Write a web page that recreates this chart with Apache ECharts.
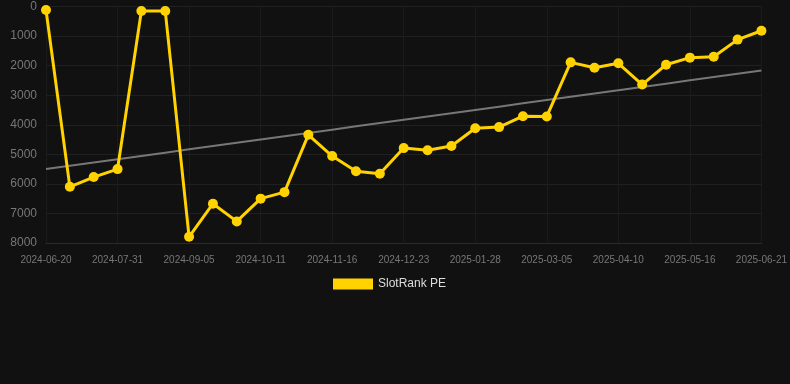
<!DOCTYPE html>
<html>
<head>
<meta charset="utf-8">
<script src="https://cdn.jsdelivr.net/npm/echarts@6/dist/echarts.min.js"></script>
<style>
html,body{margin:0;padding:0;background:#111111;}
#chart{width:790px;height:384px;}
</style>
</head>
<body>
<div id="chart"></div>
<script>
const dates = ['2024-06-20','2024-07-04','2024-07-17','2024-07-31','2024-08-12','2024-08-24','2024-09-05','2024-09-17','2024-09-29','2024-10-11','2024-10-23','2024-11-04','2024-11-16','2024-11-28','2024-12-11','2024-12-23','2025-01-04','2025-01-16','2025-01-28','2025-02-09','2025-02-21','2025-03-05','2025-03-17','2025-03-29','2025-04-10','2025-04-22','2025-05-04','2025-05-16','2025-05-28','2025-06-09','2025-06-21'];
const rankValues = [120,6100,5770,5500,150,150,7790,6670,7270,6500,6280,4340,5060,5570,5660,4790,4860,4720,4120,4080,3710,3720,1890,2070,1920,2640,1970,1730,1700,1120,820];
const yTicks = [0,1000,2000,3000,4000,5000,6000,7000,8000];
const seriesName = 'SlotRank PE';

// least-squares trend line over the data
const n = rankValues.length;
const mx = (n - 1) / 2;
const my = rankValues.reduce((a, b) => a + b, 0) / n;
let sxy = 0, sxx = 0;
rankValues.forEach((v, i) => { sxy += (i - mx) * (v - my); sxx += (i - mx) * (i - mx); });
const slope = sxy / sxx;
const trend = rankValues.map((v, i) => my + slope * (i - mx));

const chart = echarts.init(document.getElementById('chart'));
chart.setOption({
  backgroundColor: '#111111',
  animation: false,
  grid: { left: 46, right: 28, top: 6.5, bottom: 141, containLabel: false },
  legend: {
    data: [{ name: seriesName, icon: 'rect' }],
    left: 328, top: 273,
    itemWidth: 40, itemHeight: 11, itemGap: 10,
    textStyle: { color: '#dddddd', fontSize: 12, fontFamily: 'Liberation Sans, Arial, sans-serif' }
  },
  xAxis: {
    type: 'category',
    data: dates,
    boundaryGap: false,
    axisLine: { show: true, onZero: false, lineStyle: { color: '#2a2a2a', width: 1 } },
    axisTick: { show: false },
    axisLabel: { interval: 2, color: '#777777', fontSize: 10, margin: 12, fontFamily: 'Liberation Sans, Arial, sans-serif' },
    splitLine: { show: true, interval: 2, lineStyle: { color: '#1b1b1b', width: 1 } }
  },
  yAxis: {
    type: 'value',
    inverse: true,
    min: yTicks[0],
    max: yTicks[yTicks.length - 1],
    interval: 1000,
    axisLine: { show: false },
    axisTick: { show: false },
    axisLabel: { color: '#777777', fontSize: 12, margin: 9, fontFamily: 'Liberation Sans, Arial, sans-serif', formatter: v => String(v) },
    splitLine: { lineStyle: { color: '#202020', width: 1 } }
  },
  series: [
    {
      name: 'Trend',
      type: 'line',
      data: trend,
      symbol: 'none',
      silent: true,
      lineStyle: { color: '#777777', width: 2 },
      z: 1
    },
    {
      name: seriesName,
      type: 'line',
      data: rankValues,
      symbol: 'circle',
      symbolSize: 10,
      itemStyle: { color: '#FFD200' },
      lineStyle: { color: '#FFD200', width: 3 },
      z: 3
    }
  ]
});
</script>
</body>
</html>
